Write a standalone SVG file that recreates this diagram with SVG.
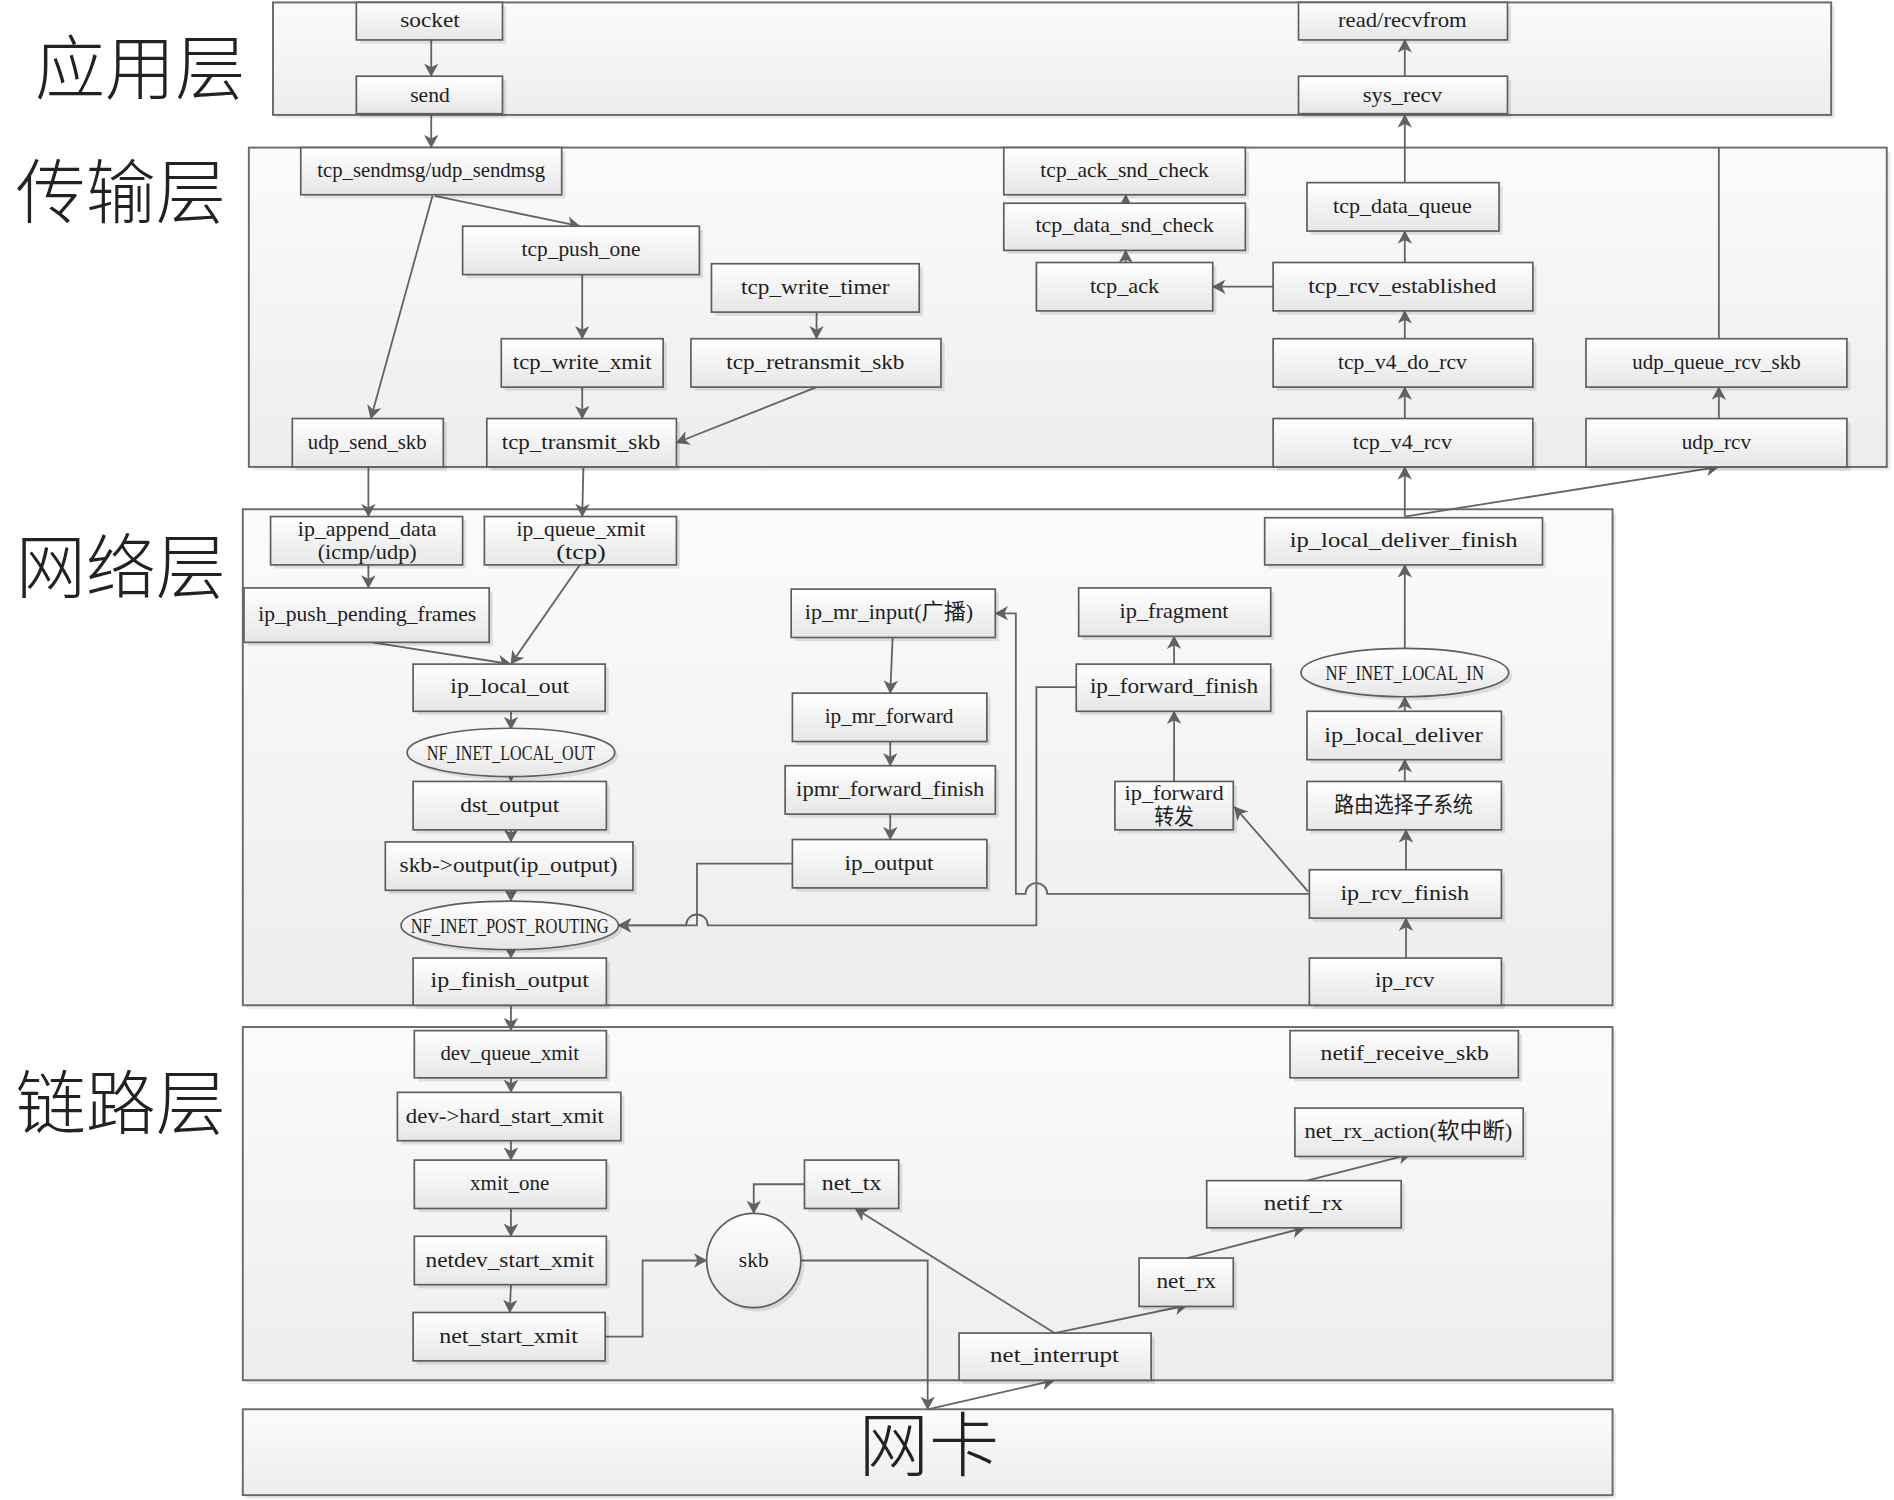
<svg xmlns="http://www.w3.org/2000/svg" width="1894" height="1500" viewBox="0 0 1894 1500">
<defs>
<linearGradient id="ng" x1="0" y1="0" x2="0" y2="1"><stop offset="0" stop-color="#ffffff"/><stop offset="1" stop-color="#e6e6e6"/></linearGradient>
<linearGradient id="lg" x1="0" y1="0" x2="0" y2="1"><stop offset="0" stop-color="#fbfbfb"/><stop offset="1" stop-color="#ededed"/></linearGradient>
<marker id="a" viewBox="0 0 11 12" refX="10.5" refY="6" markerWidth="11" markerHeight="12" markerUnits="userSpaceOnUse" orient="auto"><path d="M0,0 L11,6 L0,12 L3,6 z" fill="#626262"/></marker>
<style>
.L{fill:url(#lg);stroke:#6a6a6a;stroke-width:1.6}
.Ls{fill:#000;opacity:0.08}
.n{fill:url(#ng);stroke:#5e5e5e;stroke-width:1.4}
.s{fill:#000;opacity:0.1}
.t{font-family:"Liberation Serif","Noto Sans CJK SC",serif;font-size:18px;fill:#1e1e1e;text-anchor:middle}
.big{font-family:"Noto Sans CJK SC","Noto Sans CJK JP",sans-serif;font-size:58px;font-weight:300;fill:#222}
.c{fill:none;stroke:#646464;stroke-width:1.5}
.c path{marker-end:url(#a)}
.c path.na{marker-end:none}
</style>
</defs>
<rect width="1894" height="1500" fill="#ffffff"/>
<g transform="scale(1.20791 1.20968)">
<g id="layers">
<rect class="Ls" x="229" y="5" width="1290" height="93"/><rect id="app_layer" class="L" x="226" y="2" width="1290" height="93"/>
<rect class="Ls" x="209" y="125" width="1356" height="264"/><rect id="transport_layer" class="L" x="206" y="122" width="1356" height="264"/>
<rect class="Ls" x="204" y="424" width="1134" height="410"/><rect id="network_layer" class="L" x="201" y="421" width="1134" height="410"/>
<rect class="Ls" x="204" y="852" width="1134" height="292"/><rect id="link_layer" class="L" x="201" y="849" width="1134" height="292"/>
<rect class="Ls" x="204" y="1168" width="1134" height="71"/><rect id="nic_layer" class="L" x="201" y="1165" width="1134" height="71"/>
<text class="big" x="29" y="78">应用层</text>
<text class="big" x="13" y="180">传输层</text>
<text class="big" x="13" y="490">网络层</text>
<text class="big" x="13" y="933">链路层</text>
<text class="big" x="769" y="1216" text-anchor="middle">网卡</text>
</g>
<g id="connectors" class="c">
<path d="M357,33 V63"/>
<path d="M357,95 V122"/>
<path d="M1163,63 V33"/>
<path d="M1163,151 V95"/>
<path d="M1163,217 V191"/>
<path d="M1163,280 V257"/>
<path d="M1163,346 V320"/>
<path d="M1054,237 H1004"/>
<path d="M932,217 V207"/>
<path d="M932,168 V161"/>
<path d="M1423,346 V320"/>
<path class="na" d="M1423,280 V122"/>
<path d="M360,162 L480,187"/>
<path d="M358,162 L307,346"/>
<path d="M482,227 V280"/>
<path d="M482,320 V346"/>
<path d="M676,258 V280"/>
<path d="M676,320 L560,366"/>
<path d="M305,386 V427"/>
<path d="M483,386 L482,427"/>
<path d="M1163,427 V386"/>
<path d="M1163,427 L1423,386"/>
<path d="M305,467 V486"/>
<path d="M308,531 L423,549"/>
<path d="M480,467 L423,549"/>
<path d="M423,588 V603"/>
<path d="M423,642 V646"/>
<path d="M423,686 V696"/>
<path d="M423,736 V745"/>
<path d="M423,785 V792"/>
<path d="M423,831 V852"/>
<path d="M739,527 L737,573"/>
<path d="M737,613 V633"/>
<path d="M737,673 V694"/>
<path d="M656,714 H577 V765 H512"/>
<path d="M891,568 H858 V765 H586 A9,9 0 0 0 568,765 H512"/>
<path d="M1084,739 H867 A9,9 0 0 0 849,739 H841 V507 H824"/>
<path d="M1083,737 L1022,667"/>
<path d="M1164,719 V686"/>
<path d="M1163,646 V628"/>
<path d="M1163,588 V576"/>
<path d="M1163,537 V467"/>
<path d="M972,646 V588"/>
<path d="M972,549 V526"/>
<path d="M1164,792 V759"/>
<path d="M423,891 V903"/>
<path d="M423,943 V959"/>
<path d="M423,999 V1022"/>
<path d="M423,1062 L422,1085"/>
<path d="M501,1105 H532 V1042 H585"/>
<path d="M666,979 H624 V1003"/>
<path d="M662,1042 H768 V1165"/>
<path d="M768,1165 L873,1141"/>
<path d="M873,1102 L708,999"/>
<path d="M873,1102 L983,1079"/>
<path d="M983,1040 L1080,1015"/>
<path d="M1082,976 L1168,954"/>
</g>
<g id="socket"><rect class="s" x="298" y="5" width="121" height="31"/><rect class="n" x="295" y="2" width="121" height="31"/><text class="t" x="356" y="22" textLength="49.2" lengthAdjust="spacingAndGlyphs">socket</text></g>
<g id="send"><rect class="s" x="298" y="66" width="121" height="31"/><rect class="n" x="295" y="63" width="121" height="31"/><text class="t" x="356" y="84" textLength="32.8" lengthAdjust="spacingAndGlyphs">send</text></g>
<g id="read_recvfrom"><rect class="s" x="1078" y="5" width="173" height="31"/><rect class="n" x="1075" y="2" width="173" height="31"/><text class="t" x="1161" y="22" textLength="106.6" lengthAdjust="spacingAndGlyphs">read/recvfrom</text></g>
<g id="sys_recv"><rect class="s" x="1078" y="66" width="173" height="31"/><rect class="n" x="1075" y="63" width="173" height="31"/><text class="t" x="1161" y="84" textLength="65.6" lengthAdjust="spacingAndGlyphs">sys_recv</text></g>
<g id="tcp_sendmsg"><rect class="s" x="252" y="125" width="216" height="39"/><rect class="n" x="249" y="122" width="216" height="39"/><text class="t" x="357" y="146" textLength="188.6" lengthAdjust="spacingAndGlyphs">tcp_sendmsg/udp_sendmsg</text></g>
<g id="tcp_push_one"><rect class="s" x="386" y="190" width="196" height="40"/><rect class="n" x="383" y="187" width="196" height="40"/><text class="t" x="481" y="212" textLength="98.4" lengthAdjust="spacingAndGlyphs">tcp_push_one</text></g>
<g id="tcp_write_timer"><rect class="s" x="592" y="221" width="172" height="40"/><rect class="n" x="589" y="218" width="172" height="40"/><text class="t" x="675" y="243" textLength="123" lengthAdjust="spacingAndGlyphs">tcp_write_timer</text></g>
<g id="tcp_write_xmit"><rect class="s" x="418" y="283" width="134" height="40"/><rect class="n" x="415" y="280" width="134" height="40"/><text class="t" x="482" y="305" textLength="114.8" lengthAdjust="spacingAndGlyphs">tcp_write_xmit</text></g>
<g id="tcp_retransmit_skb"><rect class="s" x="575" y="283" width="207" height="40"/><rect class="n" x="572" y="280" width="207" height="40"/><text class="t" x="675" y="305" textLength="147.6" lengthAdjust="spacingAndGlyphs">tcp_retransmit_skb</text></g>
<g id="udp_send_skb"><rect class="s" x="245" y="349" width="125" height="40"/><rect class="n" x="242" y="346" width="125" height="40"/><text class="t" x="304" y="371" textLength="98.4" lengthAdjust="spacingAndGlyphs">udp_send_skb</text></g>
<g id="tcp_transmit_skb"><rect class="s" x="406" y="349" width="157" height="40"/><rect class="n" x="403" y="346" width="157" height="40"/><text class="t" x="481" y="371" textLength="131.2" lengthAdjust="spacingAndGlyphs">tcp_transmit_skb</text></g>
<g id="tcp_ack_snd_check"><rect class="s" x="834" y="125" width="200" height="39"/><rect class="n" x="831" y="122" width="200" height="39"/><text class="t" x="931" y="146" textLength="139.4" lengthAdjust="spacingAndGlyphs">tcp_ack_snd_check</text></g>
<g id="tcp_data_snd_check"><rect class="s" x="834" y="171" width="200" height="39"/><rect class="n" x="831" y="168" width="200" height="39"/><text class="t" x="931" y="192" textLength="147.6" lengthAdjust="spacingAndGlyphs">tcp_data_snd_check</text></g>
<g id="tcp_ack"><rect class="s" x="861" y="220" width="146" height="40"/><rect class="n" x="858" y="217" width="146" height="40"/><text class="t" x="931" y="242" textLength="57.4" lengthAdjust="spacingAndGlyphs">tcp_ack</text></g>
<g id="tcp_data_queue"><rect class="s" x="1085" y="154" width="159" height="40"/><rect class="n" x="1082" y="151" width="159" height="40"/><text class="t" x="1161" y="176" textLength="114.8" lengthAdjust="spacingAndGlyphs">tcp_data_queue</text></g>
<g id="tcp_rcv_established"><rect class="s" x="1057" y="220" width="215" height="40"/><rect class="n" x="1054" y="217" width="215" height="40"/><text class="t" x="1161" y="242" textLength="155.8" lengthAdjust="spacingAndGlyphs">tcp_rcv_established</text></g>
<g id="tcp_v4_do_rcv"><rect class="s" x="1057" y="283" width="215" height="40"/><rect class="n" x="1054" y="280" width="215" height="40"/><text class="t" x="1161" y="305" textLength="106.6" lengthAdjust="spacingAndGlyphs">tcp_v4_do_rcv</text></g>
<g id="tcp_v4_rcv"><rect class="s" x="1057" y="349" width="215" height="40"/><rect class="n" x="1054" y="346" width="215" height="40"/><text class="t" x="1161" y="371" textLength="82" lengthAdjust="spacingAndGlyphs">tcp_v4_rcv</text></g>
<g id="udp_queue_rcv_skb"><rect class="s" x="1316" y="283" width="216" height="40"/><rect class="n" x="1313" y="280" width="216" height="40"/><text class="t" x="1421" y="305" textLength="139.4" lengthAdjust="spacingAndGlyphs">udp_queue_rcv_skb</text></g>
<g id="udp_rcv"><rect class="s" x="1316" y="349" width="216" height="40"/><rect class="n" x="1313" y="346" width="216" height="40"/><text class="t" x="1421" y="371" textLength="57.4" lengthAdjust="spacingAndGlyphs">udp_rcv</text></g>
<g id="ip_append_data"><rect class="s" x="227" y="430" width="159" height="40"/><rect class="n" x="224" y="427" width="159" height="40"/><text class="t" x="304" y="443" textLength="114.8" lengthAdjust="spacingAndGlyphs">ip_append_data</text><text class="t" x="304" y="462" textLength="82" lengthAdjust="spacingAndGlyphs">(icmp/udp)</text></g>
<g id="ip_queue_xmit"><rect class="s" x="404" y="430" width="159" height="40"/><rect class="n" x="401" y="427" width="159" height="40"/><text class="t" x="481" y="443" textLength="106.6" lengthAdjust="spacingAndGlyphs">ip_queue_xmit</text><text class="t" x="481" y="462" textLength="41" lengthAdjust="spacingAndGlyphs">(tcp)</text></g>
<g id="ip_push_pending_frames"><rect class="s" x="205" y="489" width="203" height="45"/><rect class="n" x="202" y="486" width="203" height="45"/><text class="t" x="304" y="513" textLength="180.4" lengthAdjust="spacingAndGlyphs">ip_push_pending_frames</text></g>
<g id="ip_local_out"><rect class="s" x="345" y="552" width="159" height="39"/><rect class="n" x="342" y="549" width="159" height="39"/><text class="t" x="422" y="573" textLength="98.4" lengthAdjust="spacingAndGlyphs">ip_local_out</text></g>
<g id="nf_inet_local_out"><ellipse class="s" cx="426" cy="625" rx="86" ry="20"/><ellipse class="n" cx="423" cy="622" rx="86" ry="20"/><text class="t" x="423" y="628" textLength="139.4" lengthAdjust="spacingAndGlyphs">NF_INET_LOCAL_OUT</text></g>
<g id="dst_output"><rect class="s" x="345" y="649" width="160" height="40"/><rect class="n" x="342" y="646" width="160" height="40"/><text class="t" x="422" y="671" textLength="82" lengthAdjust="spacingAndGlyphs">dst_output</text></g>
<g id="skb_output"><rect class="s" x="322" y="699" width="205" height="40"/><rect class="n" x="319" y="696" width="205" height="40"/><text class="t" x="421" y="721" textLength="180.4" lengthAdjust="spacingAndGlyphs">skb-&gt;output(ip_output)</text></g>
<g id="nf_inet_post_routing"><ellipse class="s" cx="425" cy="768" rx="90" ry="20"/><ellipse class="n" cx="422" cy="765" rx="90" ry="20"/><text class="t" x="422" y="771" textLength="164" lengthAdjust="spacingAndGlyphs">NF_INET_POST_ROUTING</text></g>
<g id="ip_finish_output"><rect class="s" x="345" y="795" width="160" height="39"/><rect class="n" x="342" y="792" width="160" height="39"/><text class="t" x="422" y="816" textLength="131.2" lengthAdjust="spacingAndGlyphs">ip_finish_output</text></g>
<g id="ip_mr_input"><rect class="s" x="658" y="490" width="169" height="40"/><rect class="n" x="655" y="487" width="169" height="40"/><text class="t" x="736" y="512" textLength="139.4" lengthAdjust="spacingAndGlyphs">ip_mr_input(广播)</text></g>
<g id="ip_mr_forward"><rect class="s" x="659" y="576" width="161" height="40"/><rect class="n" x="656" y="573" width="161" height="40"/><text class="t" x="736" y="598" textLength="106.6" lengthAdjust="spacingAndGlyphs">ip_mr_forward</text></g>
<g id="ipmr_forward_finish"><rect class="s" x="653" y="636" width="174" height="40"/><rect class="n" x="650" y="633" width="174" height="40"/><text class="t" x="737" y="658" textLength="155.8" lengthAdjust="spacingAndGlyphs">ipmr_forward_finish</text></g>
<g id="ip_output"><rect class="s" x="659" y="697" width="161" height="40"/><rect class="n" x="656" y="694" width="161" height="40"/><text class="t" x="736" y="719" textLength="73.8" lengthAdjust="spacingAndGlyphs">ip_output</text></g>
<g id="ip_local_deliver_finish"><rect class="s" x="1050" y="431" width="230" height="39"/><rect class="n" x="1047" y="428" width="230" height="39"/><text class="t" x="1162" y="452" textLength="188.6" lengthAdjust="spacingAndGlyphs">ip_local_deliver_finish</text></g>
<g id="ip_fragment"><rect class="s" x="896" y="489" width="159" height="40"/><rect class="n" x="893" y="486" width="159" height="40"/><text class="t" x="972" y="511" textLength="90.2" lengthAdjust="spacingAndGlyphs">ip_fragment</text></g>
<g id="ip_forward_finish"><rect class="s" x="894" y="552" width="161" height="39"/><rect class="n" x="891" y="549" width="161" height="39"/><text class="t" x="972" y="573" textLength="139.4" lengthAdjust="spacingAndGlyphs">ip_forward_finish</text></g>
<g id="nf_inet_local_in"><ellipse class="s" cx="1166" cy="559" rx="86" ry="20"/><ellipse class="n" cx="1163" cy="556" rx="86" ry="20"/><text class="t" x="1163" y="562" textLength="131.2" lengthAdjust="spacingAndGlyphs">NF_INET_LOCAL_IN</text></g>
<g id="ip_local_deliver"><rect class="s" x="1085" y="591" width="161" height="40"/><rect class="n" x="1082" y="588" width="161" height="40"/><text class="t" x="1162" y="613" textLength="131.2" lengthAdjust="spacingAndGlyphs">ip_local_deliver</text></g>
<g id="route_subsystem"><rect class="s" x="1085" y="649" width="161" height="40"/><rect class="n" x="1082" y="646" width="161" height="40"/><text class="t" x="1162" y="671" textLength="114.8" lengthAdjust="spacingAndGlyphs">路由选择子系统</text></g>
<g id="ip_forward"><rect class="s" x="926" y="649" width="98" height="40"/><rect class="n" x="923" y="646" width="98" height="40"/><text class="t" x="972" y="661" textLength="82" lengthAdjust="spacingAndGlyphs">ip_forward</text><text class="t" x="972" y="681" textLength="32.8" lengthAdjust="spacingAndGlyphs">转发</text></g>
<g id="ip_rcv_finish"><rect class="s" x="1087" y="722" width="159" height="40"/><rect class="n" x="1084" y="719" width="159" height="40"/><text class="t" x="1163" y="744" textLength="106.6" lengthAdjust="spacingAndGlyphs">ip_rcv_finish</text></g>
<g id="ip_rcv"><rect class="s" x="1087" y="795" width="159" height="39"/><rect class="n" x="1084" y="792" width="159" height="39"/><text class="t" x="1163" y="816" textLength="49.2" lengthAdjust="spacingAndGlyphs">ip_rcv</text></g>
<g id="dev_queue_xmit"><rect class="s" x="346" y="855" width="159" height="39"/><rect class="n" x="343" y="852" width="159" height="39"/><text class="t" x="422" y="876" textLength="114.8" lengthAdjust="spacingAndGlyphs">dev_queue_xmit</text></g>
<g id="dev_hard_start_xmit"><rect class="s" x="332" y="906" width="185" height="40"/><rect class="n" x="329" y="903" width="185" height="40"/><text class="t" x="418" y="928" textLength="164" lengthAdjust="spacingAndGlyphs">dev-&gt;hard_start_xmit</text></g>
<g id="xmit_one"><rect class="s" x="346" y="962" width="159" height="40"/><rect class="n" x="343" y="959" width="159" height="40"/><text class="t" x="422" y="984" textLength="65.6" lengthAdjust="spacingAndGlyphs">xmit_one</text></g>
<g id="netdev_start_xmit"><rect class="s" x="346" y="1025" width="159" height="40"/><rect class="n" x="343" y="1022" width="159" height="40"/><text class="t" x="422" y="1047" textLength="139.4" lengthAdjust="spacingAndGlyphs">netdev_start_xmit</text></g>
<g id="net_start_xmit"><rect class="s" x="345" y="1088" width="159" height="40"/><rect class="n" x="342" y="1085" width="159" height="40"/><text class="t" x="421" y="1110" textLength="114.8" lengthAdjust="spacingAndGlyphs">net_start_xmit</text></g>
<g id="skb"><ellipse class="s" cx="627" cy="1045" rx="39" ry="39"/><ellipse class="n" cx="624" cy="1042" rx="39" ry="39"/><text class="t" x="624" y="1047" textLength="24.6" lengthAdjust="spacingAndGlyphs">skb</text></g>
<g id="net_tx"><rect class="s" x="669" y="962" width="78" height="40"/><rect class="n" x="666" y="959" width="78" height="40"/><text class="t" x="705" y="984" textLength="49.2" lengthAdjust="spacingAndGlyphs">net_tx</text></g>
<g id="net_interrupt"><rect class="s" x="797" y="1105" width="159" height="39"/><rect class="n" x="794" y="1102" width="159" height="39"/><text class="t" x="873" y="1126" textLength="106.6" lengthAdjust="spacingAndGlyphs">net_interrupt</text></g>
<g id="net_rx"><rect class="s" x="946" y="1043" width="78" height="40"/><rect class="n" x="943" y="1040" width="78" height="40"/><text class="t" x="982" y="1065" textLength="49.2" lengthAdjust="spacingAndGlyphs">net_rx</text></g>
<g id="netif_rx"><rect class="s" x="1002" y="979" width="161" height="39"/><rect class="n" x="999" y="976" width="161" height="39"/><text class="t" x="1079" y="1000" textLength="65.6" lengthAdjust="spacingAndGlyphs">netif_rx</text></g>
<g id="net_rx_action"><rect class="s" x="1075" y="919" width="189" height="40"/><rect class="n" x="1072" y="916" width="189" height="40"/><text class="t" x="1166" y="941" textLength="172.2" lengthAdjust="spacingAndGlyphs">net_rx_action(软中断)</text></g>
<g id="netif_receive_skb"><rect class="s" x="1071" y="855" width="189" height="39"/><rect class="n" x="1068" y="852" width="189" height="39"/><text class="t" x="1163" y="876" textLength="139.4" lengthAdjust="spacingAndGlyphs">netif_receive_skb</text></g>
</g>
</svg>
